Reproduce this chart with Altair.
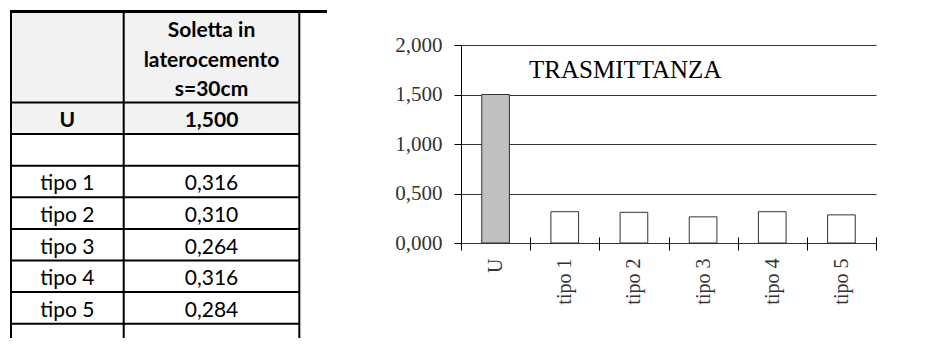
import altair as alt
import pandas as pd

# ---------------- data ----------------
categories = ["U", "tipo 1", "tipo 2", "tipo 3", "tipo 4", "tipo 5"]
values = [1.500, 0.316, 0.310, 0.264, 0.316, 0.284]
header_lines = ["Soletta in", "laterocemento", "s=30cm"]
chart_title = "TRASMITTANZA"
y_ticks = [0.0, 0.5, 1.0, 1.5, 2.0]


def fmt(v):
    return f"{v:.3f}".replace(".", ",")


# ---------------- layout constants (table drawn left of the plot) ----------------
TW, TH = 317, 331                 # table canvas size (px)
X_RANGE = [-451, -451 + TW]       # relative to plot origin
Y_RANGE = [-37, -37 + TH]
COL_L, COL_M, COL_R = 1.0, 113.7, 289.3
TOP = 3.5
HEAD_BOTTOM = 94.5
ROW_H = 31.6
BOTTOM = 330.0
HEAD_BASE = [29.0, 58.5, 88.0]
TFONT = "Lato"
TSIZE = 21

# table rows derived from data
rows = [(categories[0], values[0], True), ("", None, False)]
rows += [(c, v, False) for c, v in zip(categories[1:], values[1:])]
rows += [("", None, False)]

text_recs = []
hlines = [HEAD_BOTTOM]
for i, h in enumerate(header_lines):
    text_recs.append({"x": (COL_M + COL_R) / 2, "y": HEAD_BASE[i], "t": h, "bold": True})
for k, (lab, val, bold) in enumerate(rows):
    top = HEAD_BOTTOM + k * ROW_H
    bot = top + ROW_H
    if bot < BOTTOM:
        hlines.append(bot)
    base = bot - 7
    if lab:
        text_recs.append({"x": (COL_L + COL_M) / 2, "y": base, "t": lab, "bold": bold})
    if val is not None:
        text_recs.append({"x": (COL_M + COL_R) / 2, "y": base, "t": fmt(val), "bold": bold})

text_df = pd.DataFrame(text_recs)
h_df = pd.DataFrame({"y": hlines, "x0": COL_L, "x1": COL_R})
v_df = pd.DataFrame({"x": [COL_L, COL_M, COL_R], "y0": TOP, "y1": BOTTOM})
top_df = pd.DataFrame({"y": [TOP], "x0": [0.0], "x1": [TW]})
fill_df = pd.DataFrame({"x0": [COL_L], "x1": [COL_R], "y0": [TOP], "y1": [HEAD_BOTTOM + ROW_H]})

xs = alt.Scale(domain=[0, TW], range=X_RANGE, nice=False, zero=False)
ys = alt.Scale(domain=[0, TH], range=Y_RANGE, nice=False, zero=False)

fill = alt.Chart(fill_df).mark_rect(color="#f2f2f2").encode(
    x=alt.X("x0:Q", scale=xs, axis=None), x2="x1:Q",
    y=alt.Y("y0:Q", scale=ys, axis=None), y2="y1:Q",
)
hl = alt.Chart(h_df).mark_rule(color="black", strokeWidth=2).encode(
    x=alt.X("x0:Q", scale=xs, axis=None), x2="x1:Q",
    y=alt.Y("y:Q", scale=ys, axis=None),
)
vl = alt.Chart(v_df).mark_rule(color="black", strokeWidth=2).encode(
    x=alt.X("x:Q", scale=xs, axis=None),
    y=alt.Y("y0:Q", scale=ys, axis=None), y2="y1:Q",
)
topl = alt.Chart(top_df).mark_rule(color="black", strokeWidth=3).encode(
    x=alt.X("x0:Q", scale=xs, axis=None), x2="x1:Q",
    y=alt.Y("y:Q", scale=ys, axis=None),
)
txt_b = alt.Chart(text_df[text_df.bold]).mark_text(
    font=TFONT, fontSize=TSIZE, fontWeight="bold", baseline="alphabetic", align="center", color="black"
).encode(
    x=alt.X("x:Q", scale=xs, axis=None), y=alt.Y("y:Q", scale=ys, axis=None), text="t:N"
)
txt_n = alt.Chart(text_df[~text_df.bold]).mark_text(
    font=TFONT, fontSize=TSIZE, fontWeight="normal", baseline="alphabetic", align="center", color="black"
).encode(
    x=alt.X("x:Q", scale=xs, axis=None), y=alt.Y("y:Q", scale=ys, axis=None), text="t:N"
)
table = alt.layer(fill, hl, vl, topl, txt_b, txt_n)

# ---------------- bar chart ----------------
bar_df = pd.DataFrame({"cat": categories, "val": values})
SERIF = "Liberation Serif"
bars = alt.Chart(bar_df).mark_bar(
    width=alt.RelativeBandSize(0.4), stroke="#333333", strokeWidth=1
).encode(
    x=alt.X(
        "cat:N", sort=categories,
        scale=alt.Scale(paddingInner=0, paddingOuter=0),
        axis=alt.Axis(
            title=None, labelAngle=-90, tickBand="extent", domain=False, grid=False,
            offset=-6, tickSize=13, tickColor="black", tickWidth=1, labelPadding=8,
            labelFont=SERIF, labelFontSize=20, labelColor="#333333",
        ),
    ),
    y=alt.Y(
        "val:Q",
        scale=alt.Scale(domain=[0, 2], nice=False),
        axis=alt.Axis(
            title=None, values=y_ticks,
            labelExpr="replace(format(datum.value, '.3f'), '.', ',')",
            grid=True, gridColor="#333333", gridWidth=1, tickSize=7, tickColor="black",
            domainColor="black", labelPadding=12, labelFont=SERIF, labelFontSize=21,
            labelColor="#333333",
        ),
    ),
    fill=alt.condition(alt.datum.cat == "U", alt.value("#c0c0c0"), alt.value("white")),
)
title_df = pd.DataFrame({"t": [chart_title]})
title = alt.Chart(title_df).mark_text(
    font=SERIF, fontSize=25, baseline="alphabetic", align="left", color="black"
).encode(x=alt.value(68), y=alt.value(33), text="t:N")

plot = alt.layer(bars, title)

chart = alt.layer(table, plot).resolve_scale(x="independent", y="independent").properties(
    width=415, height=198,
    padding={"left": 0, "top": 2, "right": 0, "bottom": 0},
).configure_view(stroke=None)

chart.save("out.html", embed_options={"renderer": "svg", "actions": False})
